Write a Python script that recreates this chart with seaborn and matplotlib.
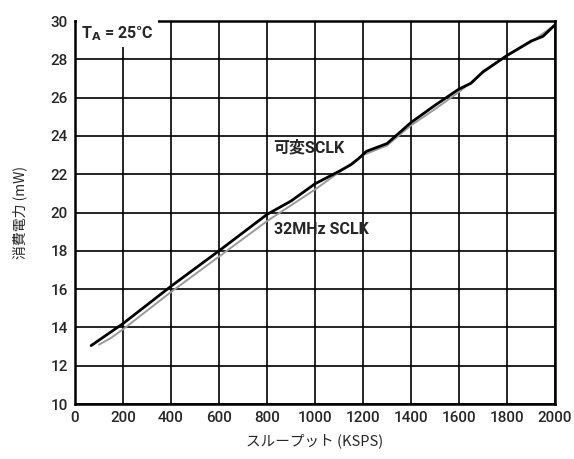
import numpy as np
import pandas as pd
import seaborn as sns
import matplotlib
matplotlib.use("Agg")
from matplotlib import pyplot as plt

# data
var_x = [67, 200, 400, 600, 800, 900, 1000, 1100, 1150, 1180, 1215, 1300, 1400, 1500, 1600, 1650, 1700, 1800, 1900, 1950, 2000]
var_y = [13.05, 14.2, 16.15, 18.0, 19.9, 20.6, 21.5, 22.15, 22.5, 22.8, 23.2, 23.6, 24.7, 25.6, 26.45, 26.75, 27.35, 28.2, 28.95, 29.2, 29.8]
fix_x = [100, 150, 200, 400, 600, 800, 1000, 1200, 1300, 1400, 1500, 1600, 1700, 1800, 1900, 2000]
fix_y = [13.1, 13.45, 13.9, 15.85, 17.7, 19.55, 21.2, 23.0, 23.5, 24.55, 25.4, 26.3, 27.3, 28.2, 28.9, 29.8]

df = pd.concat([
    pd.DataFrame({"x": fix_x, "y": fix_y, "clk": "32MHz SCLK"}),
    pd.DataFrame({"x": var_x, "y": var_y, "clk": "可変SCLK"}),
])

sns.set_style("white")
plt.rcParams['font.family'] = ['Roboto', 'Noto Sans CJK JP', 'DejaVu Sans']

fig = plt.figure(figsize=(5.74, 4.59), dpi=100)
ax = fig.add_axes([0.1307, 0.1198, 0.8362, 0.8344])

sns.lineplot(data=df, x="x", y="y", hue="clk",
             palette={"32MHz SCLK": "#9a9a9a", "可変SCLK": "#000000"},
             hue_order=["32MHz SCLK", "可変SCLK"], linewidth=1.8,
             legend=False, ax=ax, zorder=3)
ax.lines[0].set_linewidth(1.4)
ax.lines[1].set_linewidth(2.0)

ax.set_xlim(0, 2000)
ax.set_ylim(10, 30)
ax.set_xticks(range(0, 2001, 200))
ax.set_yticks(range(10, 31, 2))
ax.grid(True, color="black", linewidth=1.2)
for s in ax.spines.values():
    s.set_linewidth(1.8)
    s.set_color("black")
ax.tick_params(length=0, labelsize=11, pad=5)
for lb in ax.get_xticklabels() + ax.get_yticklabels():
    lb.set_fontweight("medium")

ax.set_xlabel("スループット (KSPS)", fontsize=10.5, labelpad=6,
              family=['Noto Sans CJK JP', 'DejaVu Sans'])
ax.set_ylabel("消費電力 (mW)", fontsize=10, labelpad=17,
              family=['Noto Sans CJK JP', 'DejaVu Sans'])

ax.text(25, 29.35, r"T$_\mathbf{A}$ = 25°C", fontsize=11.5, fontweight="bold",
        va="center", ha="left", zorder=4,
        bbox=dict(facecolor="white", edgecolor="none", pad=3))
ax.text(825, 23.4, "可変SCLK", fontsize=11.5, fontweight="bold", va="center", zorder=4)
ax.text(829, 19.1, "32MHz SCLK", fontsize=11.5, fontweight="bold", va="center", zorder=4)

fig.savefig("out.png", dpi=100)
